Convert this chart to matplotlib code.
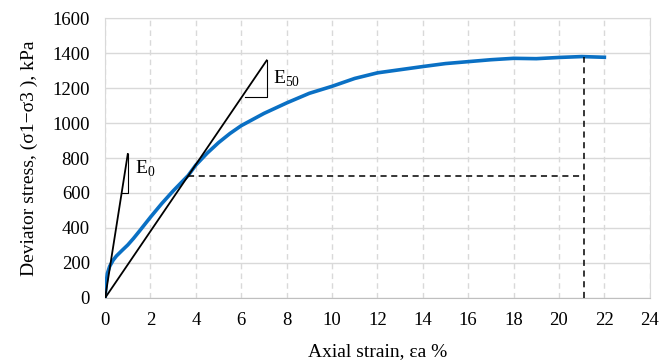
import matplotlib.pyplot as plt

# Deviator stress vs axial strain (triaxial test)
strain = [0, 0.05, 0.1, 0.2, 0.35, 0.5, 0.75, 1.0, 1.25, 1.5, 2.0, 2.5, 3.0, 3.66, 4.0,
          4.5, 5.0, 5.5, 6.0, 7.0, 8.0, 9.0, 10.0, 11.0, 12.0, 13.0, 14.0, 15.0, 16.0,
          17.0, 18.0, 19.0, 20.0, 21.0, 22.0]
stress = [0, 90, 140, 180, 215, 240, 272, 303, 340, 380, 462, 540, 612, 700, 760,
          828, 888, 940, 985, 1055, 1115, 1170, 1210, 1255, 1287, 1305, 1323, 1340, 1351,
          1362, 1370, 1368, 1375, 1380, 1376]

e0_end = (1.0, 823)
e50_end = (7.12, 1358)
half_stress = 700
half_strain = 3.66
peak_strain = 21.1
peak_stress = 1380

plt.rcParams['font.family'] = ['Liberation Serif', 'DejaVu Serif']
plt.rcParams['mathtext.fontset'] = 'custom'
plt.rcParams['mathtext.rm'] = 'Liberation Serif'

fig = plt.figure(figsize=(6.61, 3.62), dpi=100)
ax = fig.add_axes([0.159, 0.177, 0.824, 0.773])

ax.plot(strain, stress, color='#0a70c4', lw=2.6, zorder=3)

# tangent (E0) and secant (E50) moduli
ax.plot([0, e0_end[0]], [0, e0_end[1]], color='black', lw=1.3, zorder=4)
ax.plot([0, e50_end[0]], [0, e50_end[1]], color='black', lw=1.3, zorder=4)
ax.plot([0.73, e0_end[0], e0_end[0]], [602, 602, e0_end[1]], color='black', lw=0.8, zorder=4)
ax.plot([6.17, e50_end[0], e50_end[0]], [1150, 1150, e50_end[1]], color='black', lw=0.8, zorder=4)
ax.text(1.3, 740, r'E$_\mathrm{0}$', fontsize=14, va='center', ha='left')
ax.text(7.4, 1250, r'E$_\mathrm{50}$', fontsize=14, va='center', ha='left')

# half of peak stress and failure strain
ax.plot([half_strain, peak_strain], [half_stress, half_stress], color='black', lw=1.1,
        ls=(0, (4, 3)), zorder=4)
ax.plot([peak_strain, peak_strain], [0, peak_stress], color='black', lw=1.1,
        ls=(0, (4, 3)), zorder=4)

ax.set_xlim(0, 24)
ax.set_ylim(0, 1600)
ax.set_xticks(range(0, 25, 2))
ax.set_yticks(range(0, 1601, 200))
ax.grid(axis='y', color='#d9d9d9', lw=1.0)
ax.grid(axis='x', color='#d9d9d9', lw=1.0, ls=(0, (4, 3)))
ax.set_axisbelow(True)
for s in ax.spines.values():
    s.set_color('#d9d9d9')
ax.spines['bottom'].set_color('#bfbfbf')
ax.tick_params(length=0, labelsize=13.5)
ax.tick_params(axis='y', pad=11)
ax.tick_params(axis='x', pad=10)

ax.set_xlabel('Axial strain, εa %', fontsize=14, labelpad=10)
ax.set_ylabel('Deviator stress, (σ1−σ3 ), kPa', fontsize=14, labelpad=10)

fig.savefig('out.png', dpi=100)
